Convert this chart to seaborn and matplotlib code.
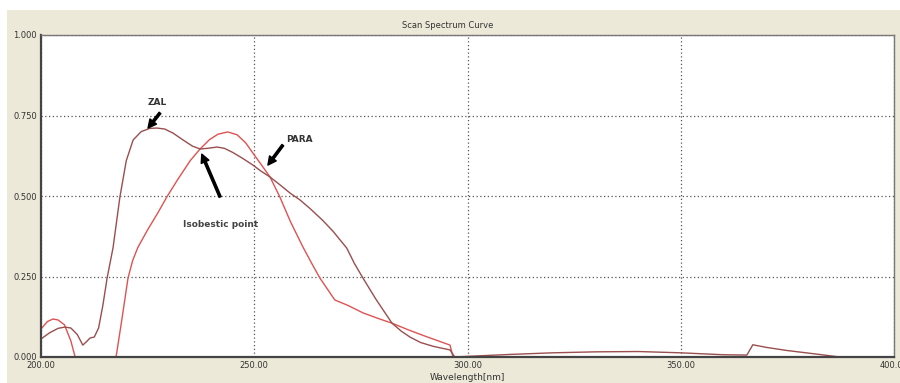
import numpy as np
import pandas as pd
import matplotlib
matplotlib.use("Agg")
import matplotlib.pyplot as plt
import seaborn as sns
from matplotlib.patches import Rectangle

# ZAL curve
zal_x = [200, 202, 204, 205.6, 207, 208.5, 209.8, 210.7, 211.5, 212.5, 213.5, 214.5, 215.5, 216.9,
         218.5, 220, 221.6, 223.5, 225.5, 227.2, 229, 231, 233.3, 235.5, 237.3, 239, 241.3, 243,
         245, 247.5, 249.7, 251.5, 253.7, 256, 258.5, 260.7, 263, 266, 268.5, 271.7, 273.5, 275.5,
         278.5, 282.3, 284.5, 286.5, 289, 292, 295.9, 297, 300, 310, 320, 330, 340, 350, 360,
         365.5, 366.9, 370, 375, 380, 387.3, 400]
zal_y = [0.056, 0.075, 0.089, 0.093, 0.090, 0.070, 0.037, 0.048, 0.059, 0.062, 0.090, 0.160, 0.245, 0.340,
         0.497, 0.610, 0.674, 0.700, 0.710, 0.711, 0.708, 0.695, 0.674, 0.655, 0.646, 0.648, 0.652, 0.648,
         0.635, 0.615, 0.596, 0.578, 0.559, 0.535, 0.508, 0.488, 0.462, 0.425, 0.390, 0.338, 0.290, 0.245,
         0.180, 0.105, 0.080, 0.062, 0.045, 0.033, 0.022, 0.000, 0.002, 0.008, 0.013, 0.016, 0.017, 0.013, 0.007,
         0.006, 0.038, 0.030, 0.020, 0.012, 0.000, 0.000]

# PARA curve
para_x = [200, 201.5, 202.8, 204, 205.5, 207, 208, 210, 215, 217.6, 219, 220.4, 221.5, 222.7,
          225, 227.5, 229.5, 232, 235, 237.3, 239.5, 241.5, 243.8, 246, 248, 249.7, 251.5, 253.7,
          256, 258.5, 261.4, 263.5, 265.4, 268.9, 272, 275.5, 279, 282.3, 286, 290, 295.9, 296.6,
          300, 320, 340, 360, 380, 400]
para_y = [0.087, 0.110, 0.118, 0.115, 0.100, 0.050, 0.000, -0.100, -0.100, 0.000, 0.120, 0.245, 0.300, 0.340,
          0.395, 0.450, 0.497, 0.550, 0.610, 0.646, 0.675, 0.692, 0.699, 0.690, 0.665, 0.633, 0.600, 0.559,
          0.497, 0.420, 0.342, 0.290, 0.245, 0.177, 0.160, 0.137, 0.120, 0.105, 0.085, 0.065, 0.037, 0.000,
          0.000, 0.000, 0.000, 0.000, 0.000, 0.000]

xticks = [200, 250, 300, 350, 400]
yticks = [0.0, 0.25, 0.5, 0.75, 1.0]

sns.set_style("white")
plt.rcParams['font.family'] = ['DejaVu Sans']

fig = plt.figure(figsize=(9, 3.83), dpi=100)
fig.patch.set_facecolor("white")
fig.patches.append(Rectangle((7 / 900, 0), 1, (383 - 10) / 383, transform=fig.transFigure,
                             facecolor="#ece9d8", edgecolor="none", zorder=-10))
ax = fig.add_axes([41 / 900, 26 / 383, 853 / 900, 322 / 383])
ax.set_facecolor("white")

dz = pd.DataFrame({"x": zal_x, "y": zal_y})
dp = pd.DataFrame({"x": para_x, "y": para_y})
sns.lineplot(data=dp, x="x", y="y", ax=ax, color="#e05252", lw=1.0, sort=False, estimator=None)
sns.lineplot(data=dz, x="x", y="y", ax=ax, color="#9a4e4e", lw=1.0, sort=False, estimator=None)

ax.set_xlim(200, 400)
ax.set_ylim(0, 1.0)
ax.set_xticks(xticks)
ax.set_yticks(yticks)
ax.set_xticklabels(["%.2f" % v for v in xticks])
ax.set_yticklabels(["%.3f" % v for v in yticks])
ax.tick_params(length=0, labelsize=6, colors="#333333", pad=3)
ax.grid(True, ls=(0, (1, 2)), color="#555555", lw=0.9)
for s in ax.spines.values():
    s.set_color("#777777")
    s.set_linewidth(1.0)
ax.spines["left"].set_color("#444444")
ax.spines["bottom"].set_color("#444444")
ax.spines["left"].set_linewidth(1.6)
ax.spines["bottom"].set_linewidth(1.6)

ax.set_xlabel("Wavelength[nm]", fontsize=6.5, color="#333333", labelpad=2)
ax.set_ylabel("")
fig.text(0.497, 1 - 25 / 383, "Scan Spectrum Curve", ha="center", va="center", fontsize=6, color="#333333")

arrow = dict(facecolor="black", edgecolor="black", width=1.6, headwidth=6, headlength=6)
ax.annotate("", xy=(225.1, 0.711), xytext=(227.9, 0.758), arrowprops=arrow)
ax.text(227.2, 0.789, "ZAL", fontsize=6.5, fontweight="bold", color="#333333", ha="center", va="center")
ax.annotate("", xy=(253.2, 0.596), xytext=(256.7, 0.658), arrowprops=arrow)
ax.text(260.7, 0.674, "PARA", fontsize=6.5, fontweight="bold", color="#333333", ha="center", va="center")
ax.annotate("", xy=(237.7, 0.630), xytext=(242, 0.497), arrowprops=arrow)
ax.text(242, 0.41, "Isobestic point", fontsize=6.5, fontweight="bold", color="#444444", ha="center", va="center")

fig.savefig("out.png", dpi=100)
